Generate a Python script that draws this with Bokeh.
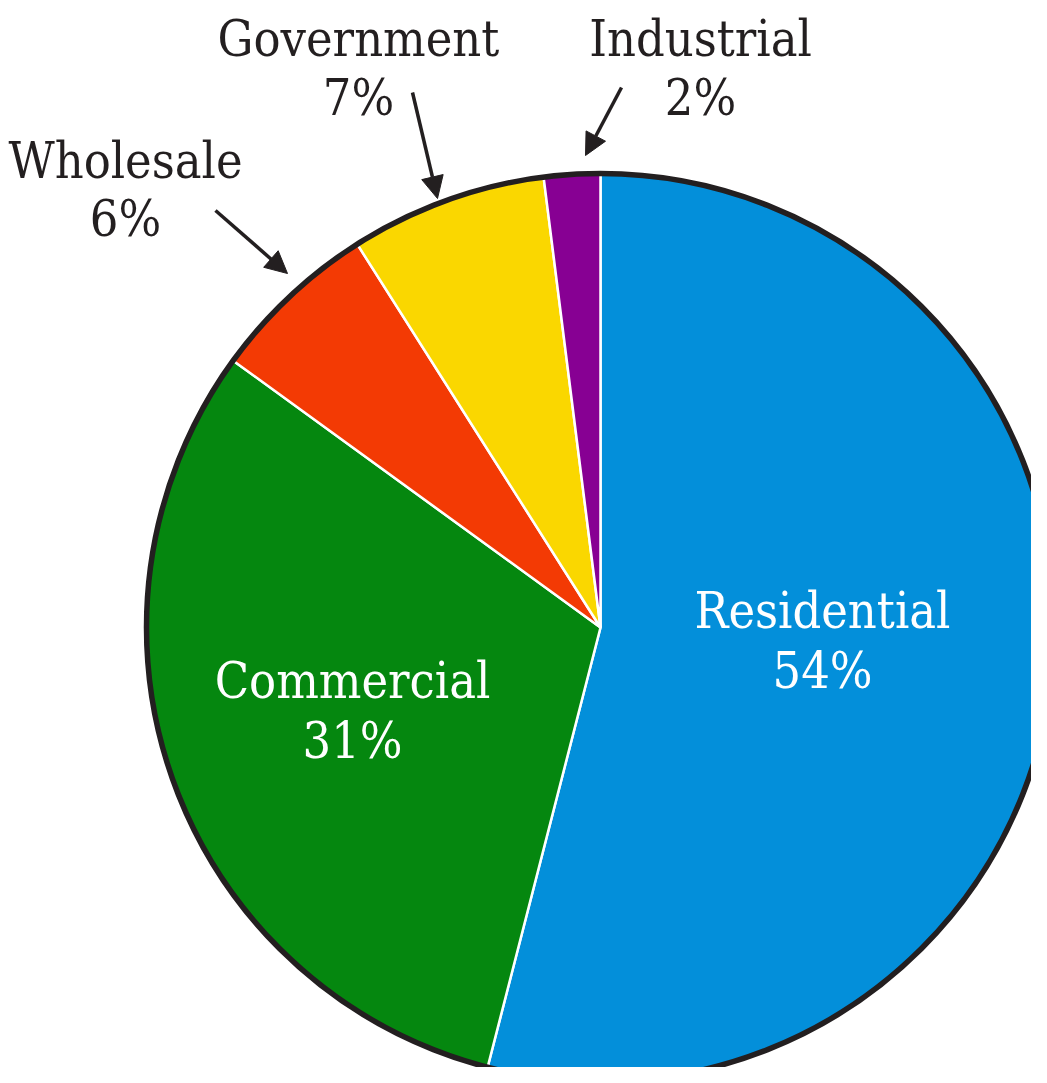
from bokeh.plotting import figure
from bokeh.models import Range1d, Arrow, NormalHead, ColumnDataSource
from bokeh.core.properties import value
from bokeh.embed import file_html
from bokeh.resources import INLINE
import numpy as np

# ---- data ----
categories = ["Residential", "Commercial", "Wholesale", "Government", "Industrial"]
shares = [54, 31, 6, 7, 2]
colors = ["#038FDA", "#05870F", "#F33A04", "#FAD700", "#870093"]

W, H = 1031, 1067
PAGE_H = 1083
def sy(y):  # screen y -> data y
    return PAGE_H - y

p = figure(width=W, height=H, output_backend="svg", toolbar_location=None,
           x_range=Range1d(0, W), y_range=Range1d(sy(H), sy(0)),
           min_border=0, outline_line_color=None)
p.axis.visible = False
p.grid.visible = False
p.background_fill_color = "white"

cx, cy, R = 600, sy(627), 454

vals = np.array(shares, dtype=float)
frac = vals / vals.sum()
ends = np.pi / 2 - 2 * np.pi * np.cumsum(frac)
starts = np.concatenate([[np.pi / 2], ends[:-1]])

src = ColumnDataSource(dict(cat=categories, start=ends, end=starts, color=colors))
p.wedge(x=cx, y=cy, radius=R, start_angle="start", end_angle="end",
        fill_color="color", line_color="white", line_width=2.5, source=src)
p.scatter(x=[cx], y=[cy], size=2 * R, fill_color=None, line_color="#231F20",
          line_width=5.5, marker="circle")

FONT = value("DejaVu Serif Condensed")
pct = [f"{v}%" for v in shares]

# inside labels
inside = {0: (822, 610, 670), 1: (352, 680, 740)}
for i, (x, y1, y2) in inside.items():
    p.text(x=[x], y=[sy(y1)], text=[categories[i]], text_align="center",
           text_baseline="middle", text_color="white", text_font=FONT,
           text_font_size="50px")
    p.text(x=[x], y=[sy(y2)], text=[pct[i]], text_align="center",
           text_baseline="middle", text_color="white", text_font=FONT,
           text_font_size="50px")

# outside labels
outside = {2: (125, 160, 218), 3: (358, 38, 97), 4: (700, 38, 97)}
for i, (x, y1, y2) in outside.items():
    p.text(x=[x], y=[sy(y1)], text=[categories[i]], text_align="center",
           text_baseline="middle", text_color="#231F20", text_font=FONT,
           text_font_size="50px")
    p.text(x=[x], y=[sy(y2)], text=[pct[i]], text_align="center",
           text_baseline="middle", text_color="#231F20", text_font=FONT,
           text_font_size="50px")

arrows = [((215, 210), (287, 273)), ((412, 92), (437, 198)), ((621, 87), (585, 155))]
for (x0, y0), (x1, y1) in arrows:
    p.add_layout(Arrow(end=NormalHead(size=22, fill_color="#231F20", line_color="#231F20"),
                       x_start=x0, y_start=sy(y0), x_end=x1, y_end=sy(y1),
                       line_color="#231F20", line_width=3.5))

open("out.html", "w").write(file_html(p, INLINE))
